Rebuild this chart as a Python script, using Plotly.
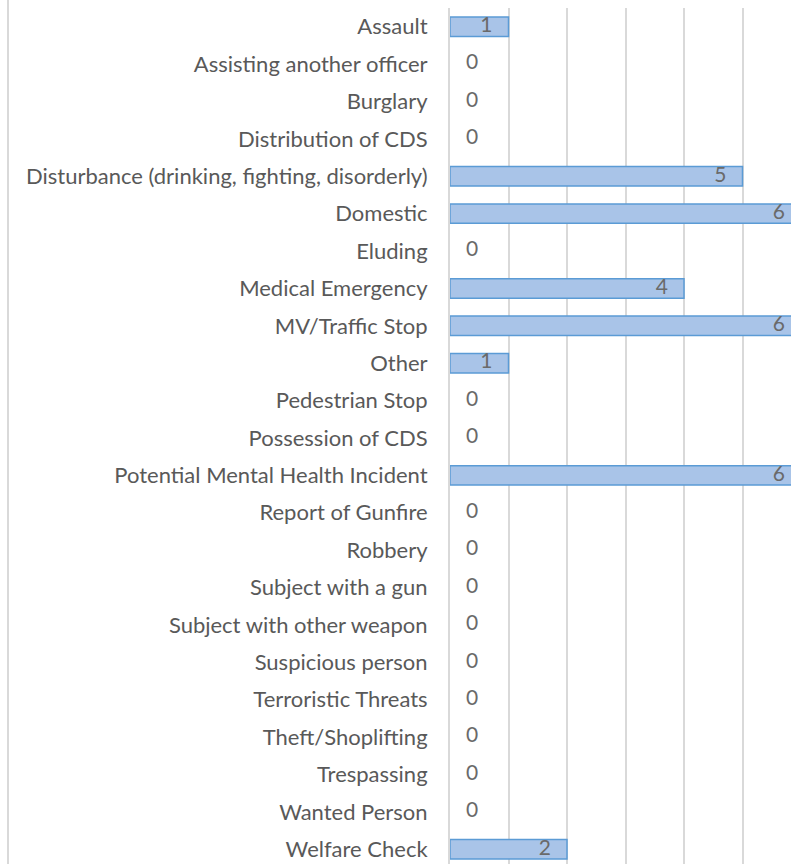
import plotly.graph_objects as go

categories = [
    "Assault", "Assisting another officer", "Burglary", "Distribution of CDS",
    "Disturbance (drinking, fighting, disorderly)", "Domestic", "Eluding",
    "Medical Emergency", "MV/Traffic Stop", "Other", "Pedestrian Stop",
    "Possession of CDS", "Potential Mental Health Incident", "Report of Gunfire",
    "Robbery", "Subject with a gun", "Subject with other weapon",
    "Suspicious person", "Terroristic Threats", "Theft/Shoplifting",
    "Trespassing", "Wanted Person", "Welfare Check",
]
counts = [1, 0, 0, 0, 5, 6, 0, 4, 6, 1, 0, 0, 6, 0, 0, 0, 0, 0, 0, 0, 0, 0, 2]
x_ticks = [0, 1, 2, 3, 4, 5, 6]

FONT = "Lato"
GRAY = "#595959"

fig = go.Figure()
fig.add_trace(go.Bar(
    y=categories, x=counts, orientation="h",
    marker=dict(color="#a9c4e8",
                line=dict(color="#5b9bd5",
                          width=[1.5 if v > 0 else 0 for v in counts])),
    hoverinfo="x+y",
    showlegend=False,
))

fig.add_trace(go.Scatter(
    y=categories, x=counts, mode="markers+text",
    marker=dict(size=24, opacity=0, color="white"),
    text=[str(v) for v in counts],
    textposition=["middle left" if v > 0 else "middle right" for v in counts],
    textfont=dict(family=FONT, size=21, color="#6a6a6a"),
    cliponaxis=False, showlegend=False, hoverinfo="skip",
))

n = len(categories)
fig.update_layout(
    width=810, height=870,
    margin=dict(l=450, r=9, t=8, b=2),
    paper_bgcolor="white", plot_bgcolor="white",
    bargap=0.48,
    font=dict(family=FONT, color=GRAY, size=22),
    xaxis=dict(range=[0, 6], tickvals=x_ticks, showticklabels=False,
               showgrid=True, gridcolor="#d9d9d9", gridwidth=2,
               zeroline=False, showline=False, fixedrange=True),
    yaxis=dict(categoryorder="array", categoryarray=categories,
               range=[n - 0.5, -0.5], autorange=False,
               showgrid=False, zeroline=False,
               showline=True, linecolor="#d9d9d9", linewidth=2,
               ticks="outside", ticklen=16, tickcolor="rgba(0,0,0,0)",
               tickfont=dict(family=FONT, size=22, color=GRAY),
               fixedrange=True),
    shapes=[dict(type="line", xref="paper", yref="paper",
                 x0=(8 - 450) / 351, x1=(8 - 450) / 351, y0=-0.05, y1=1.05,
                 line=dict(color="#d9d9d9", width=2))],
)

fig.write_html("out.html",
               config={"displayModeBar": False},
               post_script="document.body.style.margin='0';document.body.style.overflow='hidden';")
